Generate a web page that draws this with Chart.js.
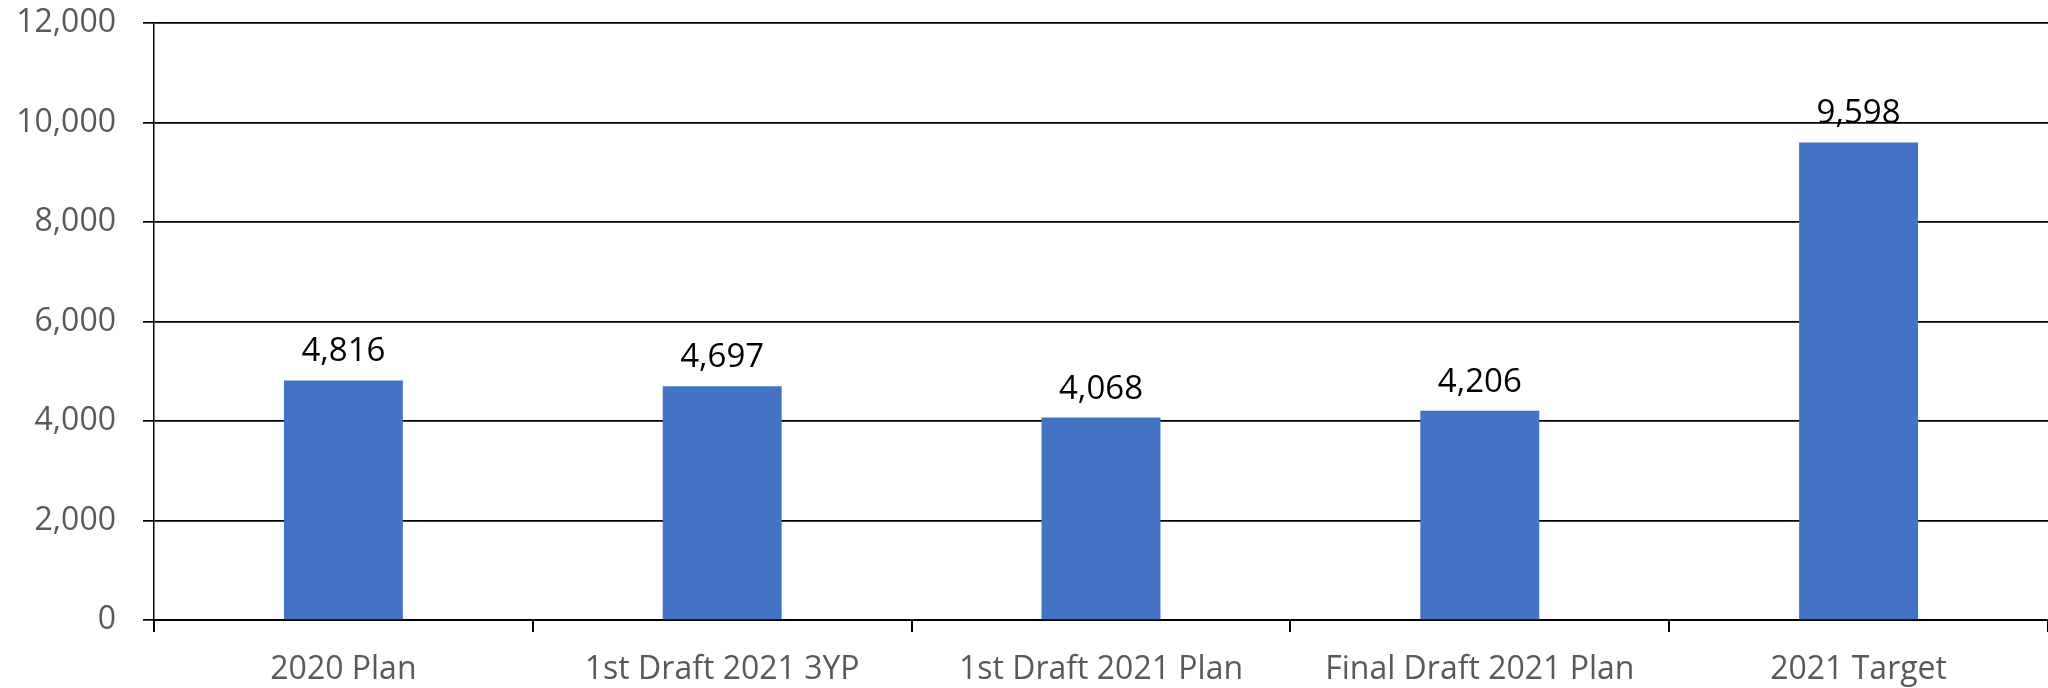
<!DOCTYPE html>
<html>
<head>
<meta charset="utf-8">
<script src="https://cdn.jsdelivr.net/npm/chart.js@4"></script>
<style>
    html, body { margin: 0; padding: 0; background: #fff; }
    #wrap { width: 2048px; height: 688px; }
</style>
</head>
<body>
<div id="wrap"><canvas id="planChart" width="2048" height="688"></canvas></div>
<script>
const categories = ['2020 Plan', '1st Draft 2021 3YP', '1st Draft 2021 Plan', 'Final Draft 2021 Plan', '2021 Target'];
const planValues = [4816, 4697, 4068, 4206, 9598];
const yTicks = [0, 2000, 4000, 6000, 8000, 10000, 12000];

const fmt = (v) => v.toLocaleString('en-US');

// labels above each bar
const barLabels = {
    id: 'barLabels',
    afterDatasetsDraw(chart) {
        const ctx = chart.ctx;
        const meta = chart.getDatasetMeta(0);
        ctx.save();
        ctx.font = '33px "Open Sans"';
        ctx.fillStyle = '#000';
        ctx.textAlign = 'center';
        ctx.textBaseline = 'bottom';
        meta.data.forEach((bar, i) => {
            ctx.fillText(fmt(planValues[i]), bar.x, bar.y - 12);
        });
        ctx.restore();
    }
};

const ctxPlan = document.getElementById('planChart').getContext('2d');
const planChart = new Chart(ctxPlan, {
    type: 'bar',
    data: {
        labels: categories,
        datasets: [{
            data: planValues,
            backgroundColor: '#4472C4',
            barPercentage: 0.314,
            categoryPercentage: 1
        }]
    },
    options: {
        responsive: false,
        animation: false,
        layout: { padding: { top: 23, right: 0, left: 0, bottom: 0 } },
        plugins: {
            legend: { display: false },
            tooltip: { enabled: false }
        },
        scales: {
            x: {
                grid: {
                    drawOnChartArea: false,
                    drawTicks: true,
                    tickLength: 12,
                    color: '#000',
                    lineWidth: 2
                },
                border: { color: '#000', width: 2 },
                ticks: {
                    color: '#595959',
                    font: { family: 'Open Sans', size: 32 },
                    padding: 19,
                    maxRotation: 0
                },
                afterFit: (scale) => {
                    scale.height = 68;
                    scale.paddingLeft = 0;
                    scale.paddingRight = 0;
                }
            },
            y: {
                min: 0,
                max: 12000,
                afterBuildTicks: (scale) => { scale.ticks = yTicks.map(v => ({ value: v })); },
                grid: {
                    color: '#000',
                    lineWidth: 1.7,
                    tickLength: 11
                },
                border: { color: '#000', width: 1.5 },
                ticks: {
                    color: '#595959',
                    font: { family: 'Open Sans', size: 32 },
                    padding: 27,
                    callback: (v) => fmt(v)
                },
                afterFit: (scale) => {
                    scale.width = 154;
                    scale.paddingTop = 0;
                    scale.paddingBottom = 0;
                }
            }
        }
    },
    plugins: [barLabels]
});
</script>
</body>
</html>
